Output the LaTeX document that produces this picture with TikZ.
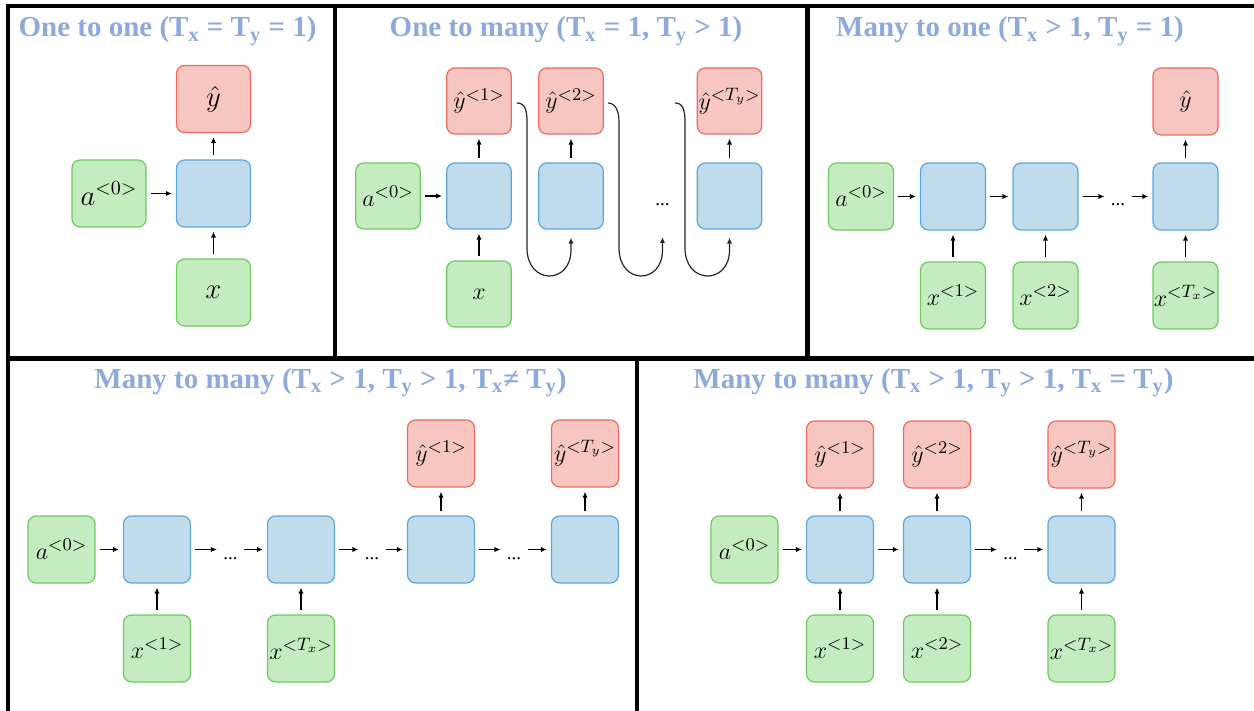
\documentclass[tikz,border=0pt]{standalone}
\usepackage{fontspec}
\setmainfont{Liberation Serif}
\usetikzlibrary{arrows.meta,calc}
\definecolor{titleblue}{HTML}{8EAADB}
\definecolor{gfill}{HTML}{C5EBC0}
\definecolor{gline}{HTML}{6DCB60}
\definecolor{bfill}{HTML}{C0DBEC}
\definecolor{bline}{HTML}{5EA6D8}
\definecolor{rfill}{HTML}{F8C6C0}
\definecolor{rline}{HTML}{EE6B60}
\tikzset{
  box/.style={rounded corners=4pt, line width=0.6pt, inner sep=0pt,
    minimum width=33.5pt, minimum height=33.5pt, font=\fontsize{12.5}{14}\selectfont},
  gbox/.style={box, fill=gfill, draw=gline},
  bbox/.style={box, fill=bfill, draw=bline},
  rbox/.style={box, fill=rfill, draw=rline},
  pone/.style={minimum width=37pt, minimum height=33.5pt, font=\fontsize{14}{16}\selectfont},
  ptwo/.style={minimum width=32.25pt, minimum height=33pt},
  pthree/.style={minimum width=32.5pt, minimum height=33.5pt},
  arr/.style={-{Latex[length=3pt,width=2.6pt]}, line width=0.6pt, shorten <=2pt, shorten >=2pt},
  crv/.style={-{Latex[length=3pt,width=2.6pt]}, line width=0.6pt, draw=black!85, shorten >=4pt},
  ttl/.style={anchor=base, text=titleblue, inner sep=0pt, font=\fontsize{14.5}{16}\selectfont\bfseries},
  dts/.style={anchor=base, inner sep=1pt, font=\fontsize{9.5}{10}\selectfont},
  frame/.style={line width=2.1pt}
}
\begin{document}
\begin{tikzpicture}[x=0.5pt,y=-0.5pt]
\useasboundingbox[fill=white] (0,0) rectangle (1254,711);
% frame
\draw[frame] (8,711) -- (8,6) -- (1254,6);
\draw[frame] (8,358.5) -- (1254,358.5);
\draw[frame] (335,6) -- (335,358.5);
\draw[frame] (807.5,6) -- (807.5,358.5);
\draw[frame] (637,358.5) -- (637,711);

% ---------- Panel 1
\node[ttl] (t1) at (167.5,37) {One to one (T\textsubscript{x} = T\textsubscript{y} = 1)};
\node[rbox,pone] (p1y) at (213.5,99) {$\hat{y}$};
\node[gbox,pone] (p1a) at (109,193.5) {$a^{<0>}$};
\node[bbox,pone] (p1b) at (213.5,193.5) {};
\node[gbox,pone] (p1x) at (213.5,292.5) {$x$};
\draw[arr] (p1a) -- (p1b);
\draw[arr] (p1b) -- (p1y);
\draw[arr] (p1x) -- (p1b);

% ---------- Panel 2
\node[ttl] (t2) at (566,37) {One to many (T\textsubscript{x} = 1, T\textsubscript{y} > 1)};
\node[rbox,ptwo] (p2y1) at (479,101) {$\hat{y}^{<1>}$};
\node[rbox,ptwo] (p2y2) at (571,101) {$\hat{y}^{<2>}$};
\node[rbox,ptwo] (p2y3) at (729.5,101) {$\hat{y}^{<T_y>}$};
\node[gbox,ptwo] (p2a) at (388,196) {$a^{<0>}$};
\node[bbox,ptwo] (p2b1) at (479,196) {};
\node[bbox,ptwo] (p2b2) at (571,196) {};
\node[bbox,ptwo] (p2b3) at (729.5,196) {};
\node[dts] (p2d) at (662.5,206) {...};
\node[gbox,ptwo] (p2x) at (479,294) {$x$};
\coordinate (p2c3s) at (675,103);
\coordinate (p2c2e) at (662.5,229);
\draw[arr] (p2a) -- (p2b1);
\draw[arr] (p2b1) -- (p2y1);
\draw[arr] (p2b2) -- (p2y2);
\draw[arr] (p2b3) -- (p2y3);
\draw[arr] (p2x) -- (p2b1);
\draw[crv] ($(p2y1.east)+(5,2)$) .. controls (525,103) and (527,110) .. (527,122)
  -- (527,248) .. controls (527,285) and (571,285) .. (571,250) -- (p2b2.south);
\draw[crv] ($(p2y2.east)+(4,2)$) .. controls (615,103) and (619,110) .. (619,122)
  -- (619,248) .. controls (619,285) and (662.5,285) .. (662.5,250) -- (p2c2e);
\draw[crv] (p2c3s) .. controls (683,103) and (685,110) .. (685,122)
  -- (685,248) .. controls (685,285) and (729.5,285) .. (729.5,250) -- (p2b3.south);

% ---------- Panel 3
\node[ttl] (t3) at (1010,37) {Many to one (T\textsubscript{x} > 1, T\textsubscript{y} = 1)};
\node[rbox,pthree] (p3y) at (1185.5,101.5) {$\hat{y}$};
\node[gbox,pthree] (p3a) at (861,196.5) {$a^{<0>}$};
\node[bbox,pthree] (p3b1) at (953,196.5) {};
\node[bbox,pthree] (p3b2) at (1045.5,196.5) {};
\node[dts] (p3d) at (1118,206) {...};
\node[bbox,pthree] (p3b3) at (1185.5,196.5) {};
\node[gbox,pthree] (p3x1) at (953,295.5) {$x^{<1>}$};
\node[gbox,pthree] (p3x2) at (1045.5,295.5) {$x^{<2>}$};
\node[gbox,pthree] (p3x3) at (1185.5,295.5) {$x^{<T_x>}$};
\draw[arr] (p3a) -- (p3b1);
\draw[arr] (p3b1) -- (p3b2);
\draw[arr] (p3b2) -- (p3b2 -| p3d.west);
\draw[arr] (p3d.east |- p3b3) -- (p3b3);
\draw[arr] (p3b3) -- (p3y);
\draw[arr] (p3x1) -- (p3b1);
\draw[arr] (p3x2) -- (p3b2);
\draw[arr] (p3x3) -- (p3b3);

% ---------- Panel 4
\node[ttl] (t4) at (330.5,388) {Many to many (T\textsubscript{x} > 1, T\textsubscript{y} > 1, T\textsubscript{x}≠ T\textsubscript{y})};
\node[gbox] (p4a) at (61.5,549.5) {$a^{<0>}$};
\node[bbox] (p4b1) at (157,549.5) {};
\node[dts] (p4d1) at (230.5,559) {...};
\node[bbox] (p4b2) at (301,549.5) {};
\node[dts] (p4d2) at (372,559) {...};
\node[bbox] (p4b3) at (441,549.5) {};
\node[dts] (p4d3) at (514,559) {...};
\node[bbox] (p4b4) at (585,549.5) {};
\node[rbox] (p4y1) at (441,453.5) {$\hat{y}^{<1>}$};
\node[rbox] (p4y2) at (585,453.5) {$\hat{y}^{<T_y>}$};
\node[gbox] (p4x1) at (157,648.5) {$x^{<1>}$};
\node[gbox] (p4x2) at (301,648.5) {$x^{<T_x>}$};
\draw[arr] (p4a) -- (p4b1);
\draw[arr] (p4b1) -- (p4b1 -| p4d1.west);
\draw[arr] (p4d1.east |- p4b2) -- (p4b2);
\draw[arr] (p4b2) -- (p4b2 -| p4d2.west);
\draw[arr] (p4d2.east |- p4b3) -- (p4b3);
\draw[arr] (p4b3) -- (p4b3 -| p4d3.west);
\draw[arr] (p4d3.east |- p4b4) -- (p4b4);
\draw[arr] (p4b3) -- (p4y1);
\draw[arr] (p4b4) -- (p4y2);
\draw[arr] (p4x1) -- (p4b1);
\draw[arr] (p4x2) -- (p4b2);

% ---------- Panel 5
\node[ttl] (t5) at (933.5,388) {Many to many (T\textsubscript{x} > 1, T\textsubscript{y} > 1, T\textsubscript{x} = T\textsubscript{y})};
\node[gbox] (p5a) at (744.5,549.5) {$a^{<0>}$};
\node[bbox] (p5b1) at (840,549.5) {};
\node[bbox] (p5b2) at (937,549.5) {};
\node[dts] (p5d) at (1010.5,559) {...};
\node[bbox] (p5b3) at (1081.5,549.5) {};
\node[rbox] (p5y1) at (840,454.5) {$\hat{y}^{<1>}$};
\node[rbox] (p5y2) at (937,454.5) {$\hat{y}^{<2>}$};
\node[rbox] (p5y3) at (1081.5,454.5) {$\hat{y}^{<T_y>}$};
\node[gbox] (p5x1) at (840,648.5) {$x^{<1>}$};
\node[gbox] (p5x2) at (937,648.5) {$x^{<2>}$};
\node[gbox] (p5x3) at (1081.5,648.5) {$x^{<T_x>}$};
\draw[arr] (p5a) -- (p5b1);
\draw[arr] (p5b1) -- (p5b2);
\draw[arr] (p5b2) -- (p5b2 -| p5d.west);
\draw[arr] (p5d.east |- p5b3) -- (p5b3);
\draw[arr] (p5b1) -- (p5y1);
\draw[arr] (p5b2) -- (p5y2);
\draw[arr] (p5b3) -- (p5y3);
\draw[arr] (p5x1) -- (p5b1);
\draw[arr] (p5x2) -- (p5b2);
\draw[arr] (p5x3) -- (p5b3);
\end{tikzpicture}
\end{document}
